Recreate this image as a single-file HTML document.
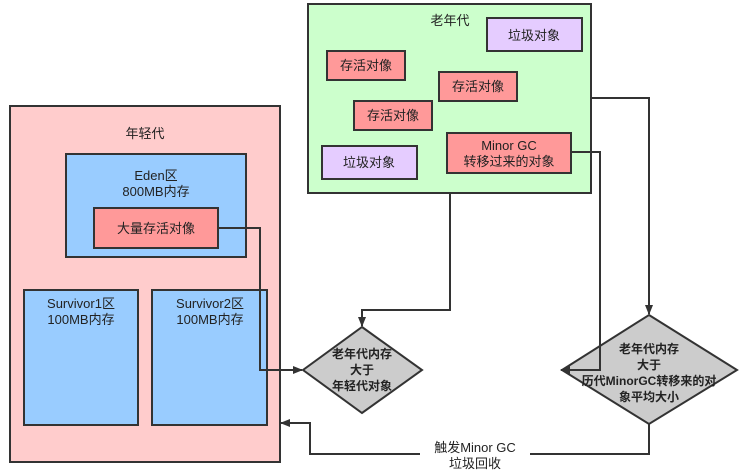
<!DOCTYPE html>
<html><head><meta charset="utf-8"><style>
html,body{margin:0;padding:0;background:#fff;width:743px;height:471px;overflow:hidden}
text{font-family:"Liberation Sans","Noto Sans CJK SC",sans-serif;font-size:13px;fill:#222}
.b{font-weight:bold;font-size:12px}
</style></head><body>
<svg width="743" height="471" viewBox="0 0 743 471" xmlns="http://www.w3.org/2000/svg">
<defs><marker id="a" markerWidth="10" markerHeight="10" refX="9" refY="5" orient="auto" markerUnits="userSpaceOnUse"><path d="M0,1 L10,5 L0,9 Z" fill="#333"/></marker></defs>
<g stroke="#333" stroke-width="2">
<rect x="10" y="106" width="270" height="356" fill="#ffcccc"/>
<rect x="66" y="154" width="180" height="103" fill="#99ccff"/>
<rect x="94" y="208" width="124" height="40" fill="#ff9999"/>
<rect x="24" y="290" width="114" height="135" fill="#99ccff"/>
<rect x="152" y="290" width="115" height="135" fill="#99ccff"/>
<rect x="308" y="4" width="283" height="189" fill="#ccffcc"/>
<rect x="487" y="18" width="95" height="33" fill="#e5ccff"/>
<rect x="327" y="51" width="78" height="29" fill="#ff9999"/>
<rect x="439" y="72" width="78" height="29" fill="#ff9999"/>
<rect x="354" y="101" width="78" height="29" fill="#ff9999"/>
<rect x="322" y="146" width="95" height="33" fill="#e5ccff"/>
<rect x="447" y="133" width="124" height="40" fill="#ff9999"/>
<polygon points="362,327 422,370 362,413 303,370" fill="#cccccc"/>
<polygon points="649,315 737,370 649,424 562,370" fill="#cccccc"/>
</g>
<g stroke="#333" stroke-width="2" fill="none">
<polyline points="218,228 260,228 260,370 302,370" marker-end="url(#a)"/>
<polyline points="450,193 450,310 362,310 362,326" marker-end="url(#a)"/>
<polyline points="591,98 649,98 649,314" marker-end="url(#a)"/>
<polyline points="571,152 600,152 600,370 561,370" marker-end="url(#a)"/>
<polyline points="649,424 649,454 310,454 310,423 281,423" marker-end="url(#a)"/>
</g>
<rect x="420" y="440" width="110" height="30" fill="#fff"/>
<g text-anchor="middle">
<text x="145" y="138">年轻代</text>
<text x="156" y="180">Eden区</text>
<text x="156" y="196">800MB内存</text>
<text x="156" y="233">大量存活对像</text>
<text x="81" y="308">Survivor1区</text>
<text x="81" y="324">100MB内存</text>
<text x="210" y="308">Survivor2区</text>
<text x="210" y="324">100MB内存</text>
<text x="450" y="25">老年代</text>
<text x="534" y="40">垃圾对象</text>
<text x="366" y="70">存活对像</text>
<text x="478" y="91">存活对像</text>
<text x="393" y="120">存活对像</text>
<text x="369" y="167">垃圾对象</text>
<text x="509" y="150">Minor GC</text>
<text x="509" y="166">转移过来的对象</text>
<text class="b" x="362" y="358">老年代内存</text>
<text class="b" x="362" y="374">大于</text>
<text class="b" x="362" y="390">年轻代对象</text>
<text class="b" x="649" y="353">老年代内存</text>
<text class="b" x="649" y="369">大于</text>
<text class="b" x="649" y="385">历代MinorGC转移来的对</text>
<text class="b" x="649" y="401">象平均大小</text>
<text x="475" y="452">触发Minor GC</text>
<text x="475" y="468">垃圾回收</text>
</g>
</svg>
</body></html>
